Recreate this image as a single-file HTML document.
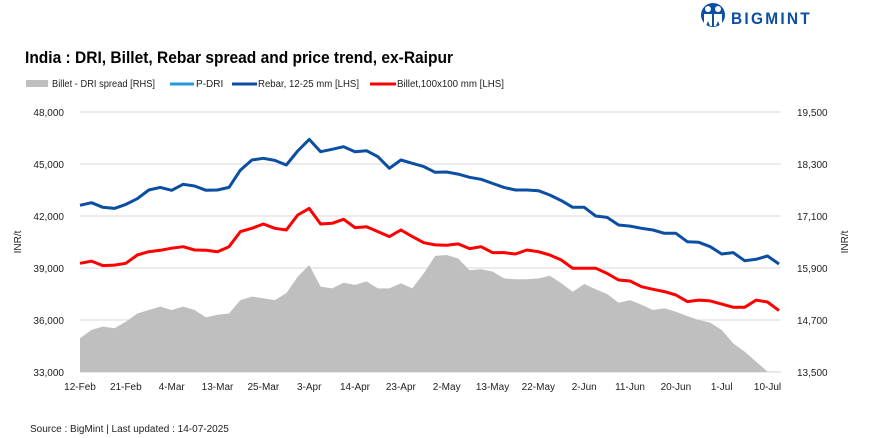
<!DOCTYPE html>
<html><head><meta charset="utf-8"><style>
body{margin:0;background:#fff;}
svg{display:block;font-family:"Liberation Sans",Arial,sans-serif;}
</style></head><body>
<svg id="chart" width="874" height="438" viewBox="0 0 874 438">
<g>
  <circle cx="713" cy="15" r="12" fill="#0b4ea2"/>
  <circle cx="708" cy="9" r="3" fill="#fff"/><circle cx="718" cy="9" r="3" fill="#fff"/>
  <path d="M704 14 h8 v12 h-2 l-2 -5 l-2 5 h-2z M714 14 h8 v12 h-2 l-2 -5 l-2 5 h-2z" fill="#fff"/>
  <text x="731" y="24" font-size="17" font-weight="bold" fill="#0b4ea2" letter-spacing="2.5" textLength="81" lengthAdjust="spacingAndGlyphs">BIGMINT</text>
</g>
<text x="25" y="63" font-size="17" font-weight="bold" fill="#000" textLength="428" lengthAdjust="spacingAndGlyphs">India : DRI, Billet, Rebar spread and price trend, ex-Raipur</text>
<g font-size="10" fill="#222">
  <g><rect x="26" y="80" width="22" height="7" fill="#bfbfbf"/><text x="52" y="87" textLength="103" lengthAdjust="spacingAndGlyphs">Billet - DRI spread  [RHS]</text></g>
  <g><line x1="170" y1="84" x2="194" y2="84" stroke="#1f9bde" stroke-width="3"/><text x="196" y="87">P-DRI</text></g>
  <g><line x1="232" y1="84" x2="257" y2="84" stroke="#0b4ea2" stroke-width="3"/><text x="258" y="87" textLength="101" lengthAdjust="spacingAndGlyphs">Rebar, 12-25 mm [LHS]</text></g>
  <g><line x1="370" y1="84" x2="396" y2="84" stroke="#ff0000" stroke-width="3"/><text x="397" y="87" textLength="107" lengthAdjust="spacingAndGlyphs">Billet,100x100 mm [LHS]</text></g>
</g>
<g id="grid"></g><g id="area"></g><g id="lines"></g><g id="axes"></g>
<text transform="translate(21,242) rotate(-90)" font-size="10" text-anchor="middle" fill="#222">INR/t</text>
<text transform="translate(848,242) rotate(-90)" font-size="10" text-anchor="middle" fill="#222">INR/t</text>
<text x="30" y="432" font-size="10" fill="#222">Source : BigMint | Last updated : 14-07-2025</text>
</svg>
<script>
const xLabels=["12-Feb","21-Feb","4-Mar","13-Mar","25-Mar","3-Apr","14-Apr","23-Apr","2-May","13-May","22-May","2-Jun","11-Jun","20-Jun","1-Jul","10-Jul"];
const leftTicks=[33000,36000,39000,42000,45000,48000];
const rightTicks=[13500,14700,15900,17100,18300,19500];
const rebar=[42620,42770,42500,42440,42670,43000,43500,43650,43480,43830,43730,43480,43500,43650,44650,45230,45330,45210,44940,45750,46420,45710,45850,46000,45710,45770,45420,44750,45230,45040,44850,44520,
44540,44420,44230,44120,43880,43650,43500,43500,43460,43210,42890,42500,42500,42000,41920,41480,41420,41290,41190,41000,41000,40520,40480,40230,39810,39890,39420,39500,39690,39230];
const billet=[39270,39400,39140,39170,39270,39750,39940,40020,40140,40230,40040,40020,39940,40230,41100,41290,41540,41290,41190,42060,42440,41540,41580,41810,41330,41380,41100,40810,41190,40810,40460,40330,
40310,40390,40120,40230,39890,39890,39810,40040,39940,39750,39460,38980,38980,38980,38690,38310,38250,37920,37770,37640,37440,37060,37150,37100,36920,36730,36730,37150,37040,36540];
const spread=[14280,14470,14550,14510,14660,14850,14930,15010,14930,15010,14930,14760,14820,14850,15160,15240,15200,15160,15320,15700,15970,15470,15430,15560,15510,15590,15430,15430,15550,15430,15780,16180,
16200,16120,15850,15870,15820,15660,15640,15640,15660,15720,15550,15350,15530,15410,15300,15100,15160,15050,14930,14970,14890,14790,14700,14640,14470,14160,13970,13740,13510,13510];
const NS="http://www.w3.org/2000/svg";
const X0=80,X1=779,YT=112,YB=372;
const n=rebar.length;
function xs(i){return X0+(X1-X0)*i/(n-1);}
function yl(v){return YB-(v-33000)/(48000-33000)*(YB-YT);}
function yr(v){return YB-(v-13500)/(19500-13500)*(YB-YT);}
function mk(tag,attrs,parent){const e=document.createElementNS(NS,tag);for(const k in attrs)e.setAttribute(k,attrs[k]);document.getElementById(parent).appendChild(e);return e;}
leftTicks.forEach((t,i)=>{
  const g=mk('line',{x1:X0,x2:781,y1:yl(t),y2:yl(t),stroke:'#d9d9d9','stroke-width':1},'grid');
  
  
  const tl=mk('text',{x:64,y:yl(t)+4,'font-size':10,'text-anchor':'end',fill:'#222'},'axes');
  tl.textContent=t.toLocaleString('en-US');
  
  
});
rightTicks.forEach(t=>{
  const tr=mk('text',{x:797,y:yr(t)+4,'font-size':10,fill:'#222'},'axes');
  tr.textContent=t.toLocaleString('en-US');
  
  
});
xLabels.forEach((l,k)=>{
  const t=mk('text',{x:xs(k*4),y:390,'font-size':10,'text-anchor':'middle',fill:'#222'},'axes');
  t.textContent=l;
  
  
});
let d='M'+xs(0)+','+YB;
spread.forEach((v,i)=>{d+=' L'+xs(i).toFixed(1)+','+yr(v).toFixed(1);});
d+=' L'+xs(n-1)+','+YB+'Z';
const a=mk('path',{d:d,fill:'#bfbfbf'},'area');


function line(arr,color,name){
  const p=mk('polyline',{points:arr.map((v,i)=>xs(i).toFixed(1)+','+yl(v).toFixed(1)).join(' '),fill:'none',stroke:color,'stroke-width':3,'stroke-linejoin':'round'},'lines');
  
  
}
line(billet,'#ff0000','billet-line');
line(rebar,'#0b4ea2','rebar-line');
</script>
</body></html>
